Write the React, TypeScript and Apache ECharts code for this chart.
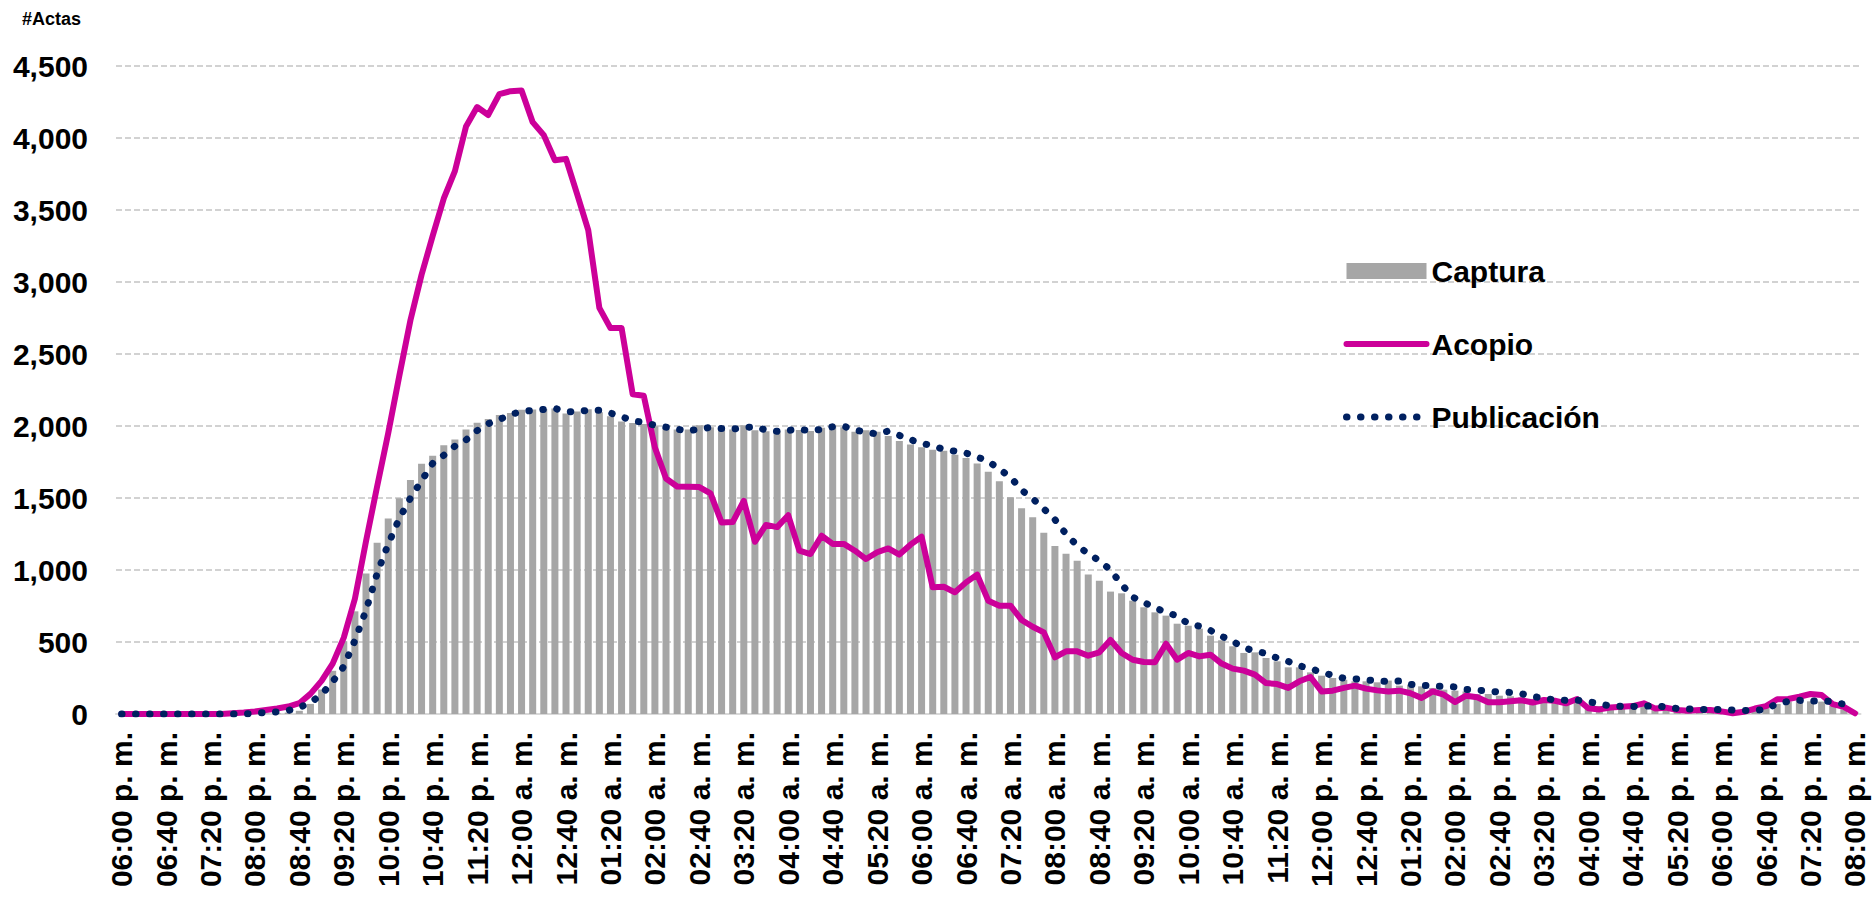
import React, { useEffect, useRef } from "react";
import * as echarts from "echarts";

// Time categories every 10 minutes, 06:00 p. m. to 08:00 p. m. of the next day
const categories: string[] = (() => {
  const out: string[] = [];
  for (let k = 0; k <= 156; k++) {
    const t = (18 * 60 + 10 * k) % 1440;
    const h24 = Math.floor(t / 60);
    const m = t % 60;
    const h12 = h24 % 12 === 0 ? 12 : h24 % 12;
    const suf = h24 < 12 ? "a. m." : "p. m.";
    out.push(`${String(h12).padStart(2, "0")}:${String(m).padStart(2, "0")} ${suf}`);
  }
  return out;
})();

const captura: number[] = [
  0, 0, 0, 0, 0, 0, 0, 0, 0, 0,
  0, 0, 0, 3, 5, 10, 22, 70, 170, 300,
  505, 713, 975, 1189, 1357, 1498, 1625, 1738, 1793, 1866,
  1907, 1976, 2022, 2048, 2077, 2090, 2112, 2115, 2118, 2122,
  2086, 2100, 2116, 2095, 2067, 2032, 2021, 2014, 1998, 1986,
  1975, 1975, 2005, 1991, 1975, 1975, 2005, 1970, 1963, 1963,
  1975, 1973, 1966, 1988, 2009, 1992, 1960, 1971, 1960, 1930,
  1896, 1872, 1853, 1835, 1828, 1800, 1778, 1740, 1682, 1617,
  1505, 1428, 1366, 1259, 1167, 1113, 1065, 968, 926, 850,
  838, 787, 741, 706, 683, 627, 613, 593, 544, 512,
  470, 424, 428, 389, 366, 324, 324, 289, 266, 250,
  238, 227, 227, 220, 232, 197, 204, 192, 181, 169,
  162, 157, 139, 139, 127, 123, 115, 105, 95, 90,
  88, 80, 65, 55, 50, 48, 50, 55, 42, 35,
  32, 28, 30, 28, 25, 22, 22, 35, 55, 70,
  86, 93, 88, 86, 56, 33, 15,
];

const acopio: number[] = [
  0, 0, 0, 0, 0, 0, 0, 0, 0, 0,
  5, 10, 18, 28, 38, 52, 75, 140, 230, 350,
  530, 800, 1200, 1580, 1950, 2350, 2735, 3050, 3320, 3580,
  3770, 4080, 4215, 4160, 4305, 4325, 4330, 4110, 4020, 3845,
  3855, 3610, 3360, 2820, 2680, 2680, 2220, 2210, 1850, 1635,
  1580, 1578, 1576, 1532, 1330, 1333, 1480, 1196, 1313, 1298,
  1380, 1134, 1111, 1238, 1181, 1181, 1134, 1076, 1123, 1150,
  1107, 1176, 1231, 880, 884, 845, 914, 968, 787, 752,
  752, 653, 606, 567, 394, 435, 435, 405, 428, 514,
  424, 377, 361, 359, 488, 377, 424, 400, 412, 350,
  315, 301, 273, 215, 208, 181, 227, 257, 157, 162,
  181, 197, 176, 164, 157, 162, 144, 111, 157, 134,
  83, 127, 116, 81, 81, 88, 95, 80, 97, 92,
  74, 104, 40, 32, 45, 51, 55, 74, 39, 44,
  28, 23, 28, 28, 18, 5, 15, 38, 55, 102,
  104, 120, 139, 132, 69, 50, 5,
];

const publicacion: number[] = [
  0, 0, 0, 0, 0, 0, 0, 0, 0, 0,
  0, 0, 5, 10, 15, 25, 45, 80, 135, 225,
  330, 510, 720, 975, 1180, 1358, 1500, 1620, 1740, 1797,
  1860, 1903, 1968, 2016, 2045, 2080, 2100, 2108, 2115, 2122,
  2100, 2098, 2110, 2110, 2090, 2065, 2036, 2025, 2005, 1992,
  1978, 1965, 1980, 1990, 1982, 1978, 1990, 1994, 1972, 1963,
  1970, 1977, 1966, 1977, 1995, 1998, 1972, 1958, 1944, 1965,
  1935, 1905, 1880, 1862, 1838, 1825, 1812, 1785, 1755, 1700,
  1645, 1555, 1495, 1425, 1350, 1250, 1170, 1113, 1065, 1000,
  900, 812, 775, 738, 706, 681, 627, 610, 580, 540,
  505, 460, 437, 420, 389, 365, 335, 315, 290, 268,
  248, 244, 238, 230, 226, 229, 205, 199, 195, 191,
  188, 170, 166, 160, 152, 150, 140, 123, 108, 98,
  95, 96, 86, 70, 56, 53, 53, 52, 60, 47,
  38, 35, 31, 33, 30, 27, 25, 23, 35, 72,
  88, 95, 89, 93, 85, 68, 60,
];

const yMin = 0;
const yMax = 4500;
const yStep = 500;

const FONT = "'Liberation Sans', Arial, sans-serif";
const ACOPIO_LINE = { color: "#cc0099", width: 6, cap: "round", join: "round" };
const PUB_LINE = { color: "#002060", width: 7, type: [0.5, 13.5], cap: "round", join: "round" };
const HIDDEN_SYMBOL = { color: "rgba(0,0,0,0)", borderWidth: 0, opacity: 0 };

export default function App() {
  const ref = useRef<HTMLDivElement>(null);
  useEffect(() => {
    if (!ref.current) return;
    const chart = echarts.init(ref.current, undefined, { renderer: "svg" });
    chart.setOption({
      animation: false,
      backgroundColor: "#ffffff",
      textStyle: { fontFamily: FONT },
      title: {
        text: "#Actas",
        left: 22,
        top: 10,
        padding: 0,
        textStyle: { fontSize: 18, fontWeight: "bold", color: "#000", fontFamily: FONT },
      },
      grid: { left: 116, right: 11.5, top: 66, bottom: 183, containLabel: false },
      legend: {
        orient: "vertical",
        left: 1343,
        top: 256,
        padding: 0,
        itemWidth: 80,
        itemHeight: 16,
        itemGap: 43,
        textStyle: { fontSize: 30, fontWeight: "bold", color: "#000", fontFamily: FONT, lineHeight: 30 },
        data: [
          { name: "Captura", icon: "rect" },
          { name: "Acopio", itemStyle: HIDDEN_SYMBOL, lineStyle: ACOPIO_LINE },
          { name: "Publicación", itemStyle: HIDDEN_SYMBOL, lineStyle: PUB_LINE },
        ],
      },
      xAxis: {
        type: "category",
        data: categories,
        boundaryGap: true,
        axisLine: { show: true, lineStyle: { color: "#d9d9d9", width: 2 } },
        axisTick: { show: false },
        axisLabel: {
          interval: 3,
          rotate: 90,
          margin: 18,
          fontSize: 30,
          fontWeight: "bold",
          color: "#000",
          fontFamily: FONT,
        },
        splitLine: { show: false },
      },
      yAxis: {
        type: "value",
        min: yMin,
        max: yMax,
        interval: yStep,
        axisLine: { show: false },
        axisTick: { show: false },
        axisLabel: {
          margin: 28,
          fontSize: 30,
          fontWeight: "bold",
          color: "#000",
          fontFamily: FONT,
          formatter: (v: number) => v.toLocaleString("en-US"),
        },
        splitLine: { show: true, lineStyle: { color: "#c4c4c4", width: 1.5, type: [6, 3] } },
      },
      series: [
        {
          name: "Captura",
          type: "bar",
          data: captura,
          barWidth: 7,
          itemStyle: { color: "#a6a6a6" },
        },
        {
          name: "Acopio",
          type: "line",
          data: acopio,
          symbol: "none",
          lineStyle: ACOPIO_LINE,
          itemStyle: { color: "#cc0099" },
        },
        {
          name: "Publicación",
          type: "line",
          data: publicacion,
          symbol: "none",
          lineStyle: PUB_LINE,
          itemStyle: { color: "#002060" },
        },
      ],
    });
    return () => chart.dispose();
  }, []);
  return (
    <div
      ref={ref}
      style={{ position: "fixed", left: 0, top: 0, width: 1872, height: 897, background: "#fff" }}
    />
  );
}
